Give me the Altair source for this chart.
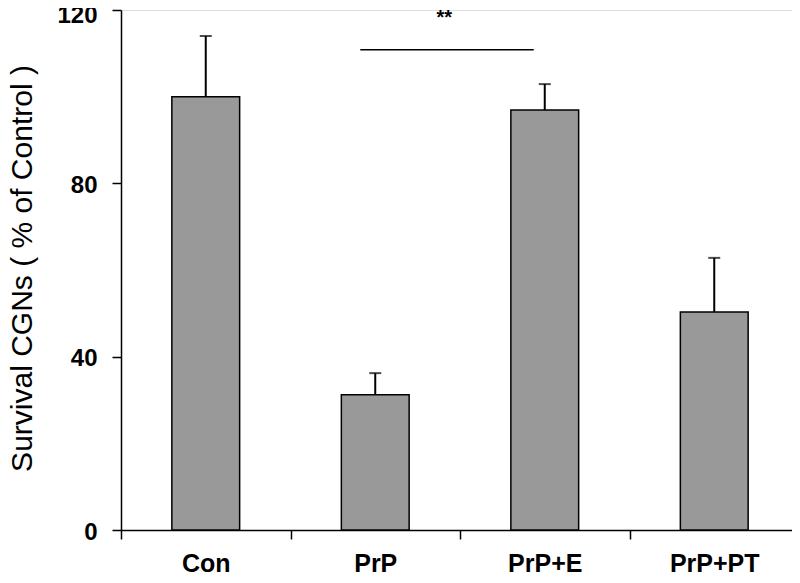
import altair as alt
import pandas as pd

groups = ["Con", "PrP", "PrP+E", "PrP+PT"]
means = [100.0, 31.2, 96.9, 50.3]
errors = [14.0, 5.0, 6.0, 12.5]
y_ticks = [0, 40, 80, 120]

sig_from = "PrP"
sig_to = "PrP+E"
sig_y = 110.8
sig_label = "**"
sig_label_y = 116.7

df = pd.DataFrame({"group": groups, "mean": means, "err": errors})
df["top"] = df["mean"] + df["err"]
sig = pd.DataFrame({"g1": [sig_from], "g2": [sig_to], "y": [sig_y], "ly": [sig_label_y], "t": [sig_label]})

FONT = "Liberation Sans"

xscale = alt.Scale(domain=groups, paddingInner=0, paddingOuter=0)
yscale = alt.Scale(domain=[0, 120], nice=False)

x_axis = alt.Axis(
    title=None, tickBand="extent", labelAngle=0, labelFont=FONT, labelFontSize=25,
    labelFontWeight="bold", labelColor="black", labelPadding=12, tickSize=9,
    tickColor="black", domainColor="black", tickWidth=1.5, domainWidth=1.5,
)
y_axis = alt.Axis(
    title="Survival CGNs ( % of Control )", values=y_ticks, grid=False,
    labelFont=FONT, labelFontSize=24, labelFontWeight="bold", labelColor="black",
    labelPadding=15, tickSize=9, tickColor="black", domainColor="black",
    labelOffset=alt.condition("datum.value == 120", alt.value(5), alt.value(2)),
    tickWidth=1.5, domainWidth=1.5, titleFont=FONT, titleFontSize=30,
    titleFontWeight="normal", titleColor="black", titleX=-90, titleY=258,
    titleBaseline="alphabetic", titleAlign="center",
)

base = alt.Chart(df)

bars = base.mark_bar(
    width={"band": 0.4}, color="#999999", stroke="black", strokeWidth=1.5
).encode(
    x=alt.X("group:N", scale=xscale, axis=x_axis, sort=groups),
    y=alt.Y("mean:Q", scale=yscale, axis=y_axis),
)

err_rule = base.mark_rule(color="black", strokeWidth=2).encode(
    x=alt.X("group:N", sort=groups),
    y="mean:Q",
    y2="top:Q",
)

caps = base.mark_tick(color="black", thickness=2, size=12, orient="horizontal").encode(
    x=alt.X("group:N", sort=groups),
    y="top:Q",
)

sig_line = alt.Chart(sig).mark_rule(color="black", strokeWidth=1.5, xOffset=-15, x2Offset=-11).encode(
    x=alt.X("g1:N", sort=groups),
    x2="g2:N",
    y="y:Q",
)

sig_text = alt.Chart(sig).mark_text(
    font=FONT, fontSize=20, fontWeight="bold", color="black", dx=69, baseline="alphabetic"
).encode(
    x=alt.X("g1:N", sort=groups),
    y="ly:Q",
    text="t:N",
)

chart = alt.layer(bars, err_rule, caps, sig_line, sig_text).properties(
    width=678, height=520,
    padding={"left": 113, "top": 2, "right": -7, "bottom": 45},
    autosize=alt.AutoSizeParams(type="none"),
).configure_view(stroke=None).configure(background="white")

chart.save("out.html", embed_options={"renderer": "svg", "actions": False})
